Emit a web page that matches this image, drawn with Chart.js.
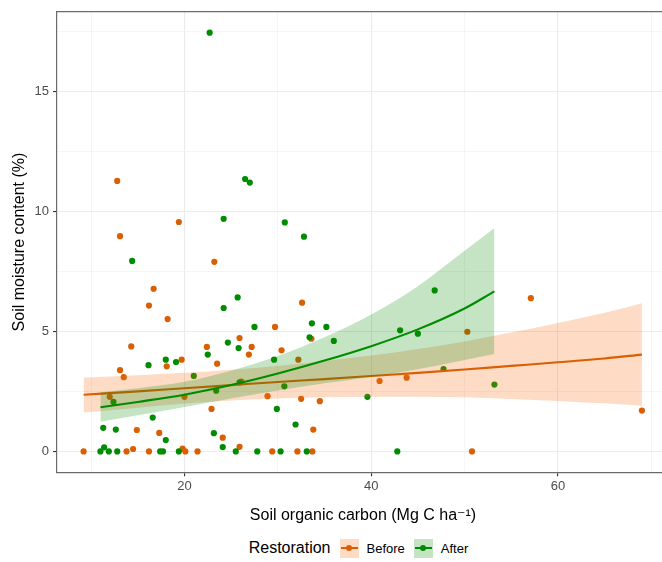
<!DOCTYPE html>
<html>
<head>
<meta charset="utf-8">
<script src="https://cdn.jsdelivr.net/npm/chart.js@4.4.1/dist/chart.umd.min.js"></script>
<style>
  html, body { margin: 0; padding: 0; background: #fff; overflow: hidden; }
  #wrap { position: relative; width: 676px; height: 562px; }
  #legend {
    position: absolute; left: 0; top: 537px; width: 726px; height: 22px;
    display: flex; justify-content: center; align-items: center;
    font-family: "Liberation Sans", Arial, "DejaVu Sans", sans-serif; color: #000;
  }
  #legend .ttl { font-size: 16px; margin-right: 9px; }
  #legend .key { position: relative; width: 19px; height: 19px; margin-right: 8px; }
  #legend .key i { position: absolute; left: 1px; right: 1px; top: 8.5px; height: 2px; }
  #legend .key b { position: absolute; left: 6.5px; top: 6.5px; width: 6px; height: 6px; border-radius: 50%; }
  #legend .lab { font-size: 13px; margin-right: 9px; }
</style>
</head>
<body>
<div id="wrap">
  <canvas id="soil_canvas" width="676" height="530"></canvas>
  <div id="legend"></div>
</div>
<script>
// legend / series
const legendTitle = 'Restoration';
const seriesNames = ['Before', 'After'];

// Before restoration: soil organic carbon (x) and soil moisture (y)
const beforeSOC = [9.2, 12.8, 19.4, 13.1, 23.2, 16.7, 16.2, 18.2, 32.6, 29.7, 33.6, 14.3, 25.9, 27.2, 26.9, 22.4,
  30.4, 32.2, 23.5, 19.7, 18.1, 13.1, 13.5, 26.1, 12.0, 20.0, 28.9, 32.5, 34.5, 22.9, 14.9, 33.8, 17.3, 24.1,
  25.9, 19.8, 14.5, 13.8, 16.2, 20.1, 21.4, 29.4, 32.1, 33.7, 40.9, 43.8, 50.3, 50.8, 57.1, 69.0];
const beforeMoisture = [0, 11.26, 9.55, 8.96, 7.89, 6.77, 6.07, 5.51, 6.19, 5.18, 4.69, 4.37, 4.72, 4.35, 4.03, 4.35,
  4.21, 3.82, 3.65, 3.82, 3.54, 3.38, 3.09, 2.91, 2.27, 2.27, 2.30, 2.19, 2.09, 1.77, 0.89, 0.91, 0.77, 0.57,
  0.19, 0.12, 0.10, 0, 0, 0, 0, 0, 0, 0, 2.93, 3.07, 4.98, 0, 6.38, 1.70];

// After restoration
const afterSOC = [22.7, 26.5, 27.0, 24.2, 30.75, 32.8, 14.4, 25.7, 24.2, 27.5, 33.65, 35.2, 36.0, 33.4, 24.65, 25.8,
  22.5, 29.6, 18.0, 19.1, 16.15, 21.0, 25.9, 30.7, 23.4, 12.4, 29.9, 16.6, 31.9, 11.3, 12.65, 23.15, 18.0, 24.1,
  11.4, 11.0, 11.9, 12.8, 17.4, 17.7, 19.4, 25.5, 27.8, 30.3, 33.1, 46.8, 43.1, 45.0, 47.75, 39.6, 53.2, 42.8];
const afterMoisture = [17.43, 11.34, 11.19, 9.68, 9.53, 8.94, 7.93, 6.41, 5.97, 5.18, 5.33, 5.18, 4.6, 4.75, 4.53, 4.3,
  4.03, 3.82, 3.82, 3.72, 3.59, 3.14, 2.87, 2.71, 2.53, 2.06, 1.77, 1.41, 1.12, 0.98, 0.91, 0.76, 0.47, 0.18,
  0.17, 0, 0, 0, 0, 0, 0, 0, 0, 0, 0, 6.70, 5.04, 4.9, 3.43, 2.27, 2.78, 0];

// fitted trends and confidence bands
const beforeFitX = [9.2, 15, 20, 25, 30, 35, 40, 45, 50, 55, 60, 65, 69.0];
const beforeFit = [2.36, 2.50, 2.63, 2.76, 2.89, 3.01, 3.14, 3.27, 3.41, 3.56, 3.71, 3.87, 4.03];
const beforeLower = [1.62, 1.82, 1.99, 2.12, 2.20, 2.25, 2.28, 2.28, 2.25, 2.18, 2.10, 2.00, 1.90];
const beforeUpper = [3.07, 3.17, 3.27, 3.40, 3.56, 3.76, 3.99, 4.26, 4.58, 4.95, 5.35, 5.77, 6.17];

const afterFitX = [11.0, 15, 20, 25, 30, 35, 40, 45, 50, 53.2];
const afterFit = [1.84, 2.06, 2.36, 2.76, 3.24, 3.78, 4.38, 5.08, 5.95, 6.66];
const afterLower = [1.23, 1.50, 1.85, 2.20, 2.54, 2.84, 3.10, 3.42, 3.80, 4.05];
const afterUpper = [2.46, 2.63, 2.90, 3.36, 3.97, 4.75, 5.70, 6.88, 8.35, 9.30];

// axis ticks
const xTickLabels = [20, 40, 60];
const yTickLabels = [0, 5, 10, 15];

const colBefore = '#D95F02';
const colAfter = '#008C00';
const fillBefore = 'rgba(246, 112, 24, 0.25)';
const fillAfter = 'rgba(0, 140, 0, 0.23)';
const FONT = '"Liberation Sans", Arial, "DejaVu Sans", sans-serif';

function pts(xs, ys) {
  return xs.map((x, i) => ({ x: x, y: ys[i] }));
}

function bandSet(xs, ys, col, fill, order) {
  return {
    type: 'line', data: pts(xs, ys), showLine: true, borderWidth: 0, borderColor: 'transparent',
    backgroundColor: col, pointRadius: 0, fill: fill, order: order,
    cubicInterpolationMode: 'monotone'
  };
}

const datasets = [
  // points (drawn first)
  { label: seriesNames[0], data: pts(beforeSOC, beforeMoisture), backgroundColor: colBefore,
    pointRadius: 3.1, pointBorderWidth: 0, pointBorderColor: colBefore, order: 20 },
  { label: seriesNames[1], data: pts(afterSOC, afterMoisture), backgroundColor: colAfter,
    pointRadius: 3.1, pointBorderWidth: 0, pointBorderColor: colAfter, order: 19 },
  // Before band + line
  bandSet(beforeFitX, beforeUpper, fillBefore, '+1', 18),
  bandSet(beforeFitX, beforeLower, 'transparent', false, 17),
  { type: 'line', data: pts(beforeFitX, beforeFit), borderColor: colBefore, borderWidth: 2.1,
    pointRadius: 0, fill: false, order: 16, cubicInterpolationMode: 'monotone' },
  // After band + line
  bandSet(afterFitX, afterUpper, fillAfter, '+1', 15),
  bandSet(afterFitX, afterLower, 'transparent', false, 14),
  { type: 'line', data: pts(afterFitX, afterFit), borderColor: colAfter, borderWidth: 2.1,
    pointRadius: 0, fill: false, order: 13, cubicInterpolationMode: 'monotone' }
];

const isMajorX = v => xTickLabels.includes(v);
const isMajorY = v => yTickLabels.includes(v);

const config = {
  type: 'scatter',
  data: { datasets: datasets },
  options: {
    responsive: false,
    animation: false,
    layout: { padding: { top: 11, right: 7, left: 0, bottom: 0 } },
    plugins: { legend: { display: false }, tooltip: { enabled: false } },
    scales: {
      x: {
        type: 'linear', position: 'bottom', min: 6.35, max: 71.9,
        ticks: {
          stepSize: 10, includeBounds: false, autoSkip: false, maxRotation: 0, padding: 2,
          color: '#4d4d4d', font: { family: FONT, size: 13 },
          callback: v => (isMajorX(v) ? String(v) : '')
        },
        grid: {
          color: c => (isMajorX(c.tick.value) ? '#ebebeb' : '#f3f3f3'),
          lineWidth: c => (isMajorX(c.tick.value) ? 1.1 : 0.8),
          tickColor: c => (isMajorX(c.tick.value) ? '#333333' : 'rgba(0,0,0,0)'),
          tickLength: 4
        },
        border: { display: true, color: '#6b6b6b', width: 1.2 },
        title: {
          display: true, text: 'Soil organic carbon (Mg C ha\u207B\u00B9)', color: '#000',
          font: { family: FONT, size: 16 }, padding: { top: 4, bottom: 5 }
        },
        afterFit: axis => { axis.height = 57.7; }
      },
      xTop: {
        type: 'linear', position: 'top', min: 6.35, max: 71.9,
        ticks: { display: false }, grid: { display: false, drawTicks: false },
        border: { display: true, color: '#6b6b6b', width: 1.2 },
        afterFit: axis => { axis.height = 0; }
      },
      y: {
        type: 'linear', min: -0.87, max: 18.3,
        ticks: {
          stepSize: 2.5, includeBounds: false, autoSkip: false, padding: 4,
          color: '#4d4d4d', font: { family: FONT, size: 13 },
          callback: v => (isMajorY(v) ? String(v) : '')
        },
        grid: {
          color: c => (isMajorY(c.tick.value) ? '#ebebeb' : '#f3f3f3'),
          lineWidth: c => (isMajorY(c.tick.value) ? 1.1 : 0.8),
          tickColor: c => (isMajorY(c.tick.value) ? '#333333' : 'rgba(0,0,0,0)'),
          tickLength: 4
        },
        border: { display: true, color: '#6b6b6b', width: 1.2 },
        title: {
          display: true, text: 'Soil moisture content (%)', color: '#000',
          font: { family: FONT, size: 16 }, padding: { top: 10, bottom: 4 }
        },
        afterFit: axis => { axis.width = 57; }
      }
    }
  }
};

const ctx = document.getElementById('soil_canvas').getContext('2d');
const myChart = new Chart(ctx, config);

// legend below the plot
function buildLegend() {
  const el = document.getElementById('legend');
  const cols = [colBefore, colAfter];
  const fills = [fillBefore, fillAfter];
  let html = '<span class="ttl">' + legendTitle + '</span>';
  seriesNames.forEach((name, i) => {
    html += '<span class="key" style="background:' + fills[i] + '">' +
      '<i style="background:' + cols[i] + '"></i><b style="background:' + cols[i] + '"></b></span>' +
      '<span class="lab">' + name + '</span>';
  });
  el.innerHTML = html;
}
buildLegend();
</script>
</body>
</html>
